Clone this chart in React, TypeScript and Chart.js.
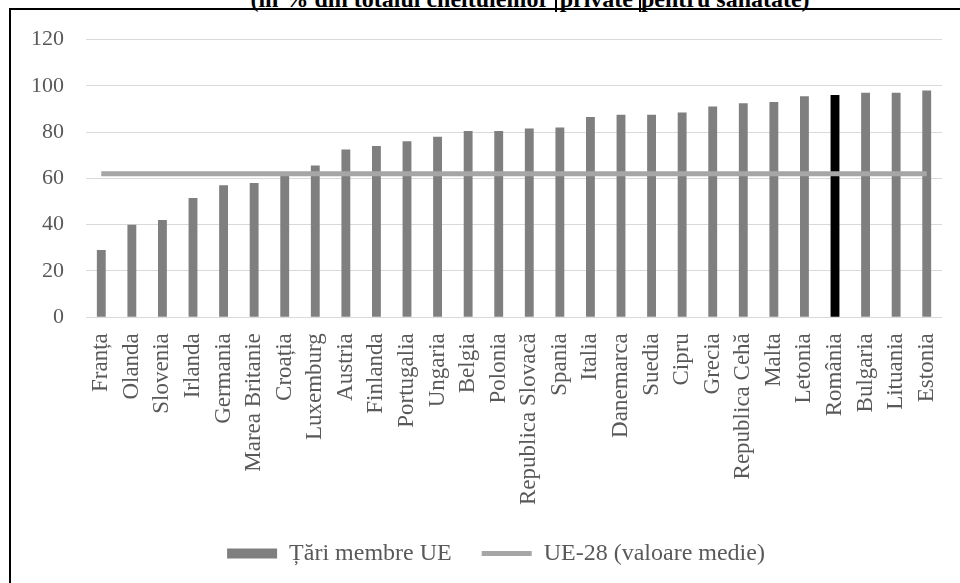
import { useEffect, useRef } from "react";
import { Chart, registerables } from "chart.js";

Chart.register(...registerables);

// Share of out-of-pocket payments, by EU member state
const countries = [
  "Franța", "Olanda", "Slovenia", "Irlanda", "Germania", "Marea Britanie", "Croația",
  "Luxemburg", "Austria", "Finlanda", "Portugalia", "Ungaria", "Belgia", "Polonia",
  "Republica Slovacă", "Spania", "Italia", "Danemarca", "Suedia", "Cipru", "Grecia",
  "Republica Cehă", "Malta", "Letonia", "România", "Bulgaria", "Lituania", "Estonia",
];
const shares = [
  29, 40, 42, 51.5, 57, 58, 61.5, 65.5, 72.5, 74, 76, 78, 80.5, 80.5,
  81.5, 82, 86.5, 87.5, 87.5, 88.5, 91, 92.5, 93, 95.5, 96, 97, 97, 98,
];
const euAverage = 62;
const highlighted = "România";
const seriesNames = ["Țări membre UE", "UE-28 (valoare medie)"];
const yMin = 0;
const yMax = 120;
const yStep = 20;

const FONT = "'Liberation Serif', 'Times New Roman', Times, serif";
const TEXT = "#595959";
const BAR = "#7f7f7f";
const BAR_HI = "#000000";
const AVG = "#a6a6a6";

// Nudges the bottom legend a little to the right of the canvas centre
const legendShift = {
  id: "legendShift",
  afterLayout(chart: any) {
    const lg = chart.legend;
    if (!lg) return;
    lg.left += 14.5;
    lg.right += 14.5;
  },
};

export default function App() {
  const canvasRef = useRef<HTMLCanvasElement | null>(null);

  useEffect(() => {
    const canvas = canvasRef.current;
    if (!canvas) return;
    const baseLabels = Chart.defaults.plugins.legend.labels.generateLabels;
    const chart = new Chart(canvas, {
      type: "bar",
      data: {
        labels: countries,
        datasets: [
          {
            type: "bar",
            label: seriesNames[0],
            data: shares,
            backgroundColor: countries.map((c) => (c === highlighted ? BAR_HI : BAR)),
            borderWidth: 0,
            barPercentage: 0.29,
            categoryPercentage: 1,
            order: 1,
          },
          {
            type: "line",
            label: seriesNames[1],
            data: countries.map(() => euAverage),
            borderColor: AVG,
            backgroundColor: AVG,
            borderWidth: 5,
            pointRadius: 0,
            tension: 0,
            order: 0,
          } as any,
        ],
      },
      options: {
        responsive: false,
        animation: false,
        events: [],
        layout: { padding: { left: 10, right: 18, top: 29.5, bottom: 24.6 } },
        scales: {
          x: {
            grid: { display: false },
            border: { display: false },
            ticks: {
              color: TEXT,
              font: { family: FONT, size: 23 },
              maxRotation: 90,
              minRotation: 90,
              autoSkip: false,
              padding: 8,
            },
            afterFit: (s: any) => {
              s.height = 194.2;
              s.paddingLeft = 0;
              s.paddingRight = 0;
            },
          },
          y: {
            min: yMin,
            max: yMax,
            grid: { color: "#d9d9d9", lineWidth: 1, drawTicks: false },
            border: { display: false },
            ticks: {
              stepSize: yStep,
              color: TEXT,
              font: { family: FONT, size: 22 },
              padding: 22,
            },
            afterFit: (s: any) => {
              s.width = 65;
              s.paddingTop = 0;
              s.paddingBottom = 0;
            },
          },
        },
        plugins: {
          title: { display: false },
          tooltip: { enabled: false },
          legend: {
            position: "bottom",
            labels: {
              color: TEXT,
              font: { family: FONT, size: 24 },
              usePointStyle: true,
              pointStyleWidth: 50,
              boxHeight: 10,
              padding: 30,
              sort: (a: any, b: any) => a.datasetIndex - b.datasetIndex,
              generateLabels: (c: any) =>
                baseLabels(c).map((item: any) =>
                  item.datasetIndex === 0
                    ? { ...item, pointStyle: "rect", fillStyle: BAR, strokeStyle: BAR, lineWidth: 0 }
                    : { ...item, pointStyle: "line", fillStyle: AVG, strokeStyle: AVG, lineWidth: 5 }
                ),
            },
          },
        },
      },
      plugins: [legendShift],
    });
    return () => chart.destroy();
  }, []);

  return (
    <div
      style={{
        position: "fixed",
        left: 0,
        top: 0,
        width: 960,
        height: 583,
        overflow: "hidden",
        background: "#fff",
      }}
    >
      <div
        style={{
          position: "absolute",
          left: 0,
          top: -13,
          width: 1060,
          textAlign: "center",
          fontFamily: FONT,
          fontWeight: "bold",
          fontSize: 24,
          lineHeight: "24px",
          whiteSpace: "nowrap",
          color: "#000",
        }}
      >
        (în % din totalul cheltuielilor{" "}
        <span
          style={{
            borderLeft: "2px solid #000",
            borderRight: "2px solid #000",
            padding: "0 6px 0 3px",
          }}
        >
          private
        </span>
        pentru sănătate)
      </div>
      <div
        style={{
          position: "absolute",
          left: 9,
          top: 8,
          width: 1000,
          height: 600,
          borderLeft: "2px solid #000",
          borderTop: "2px solid #000",
        }}
      />
      <canvas
        ref={canvasRef}
        width={949}
        height={590}
        style={{ position: "absolute", left: 11, top: 10, width: 949, height: 590 }}
      />
    </div>
  );
}
